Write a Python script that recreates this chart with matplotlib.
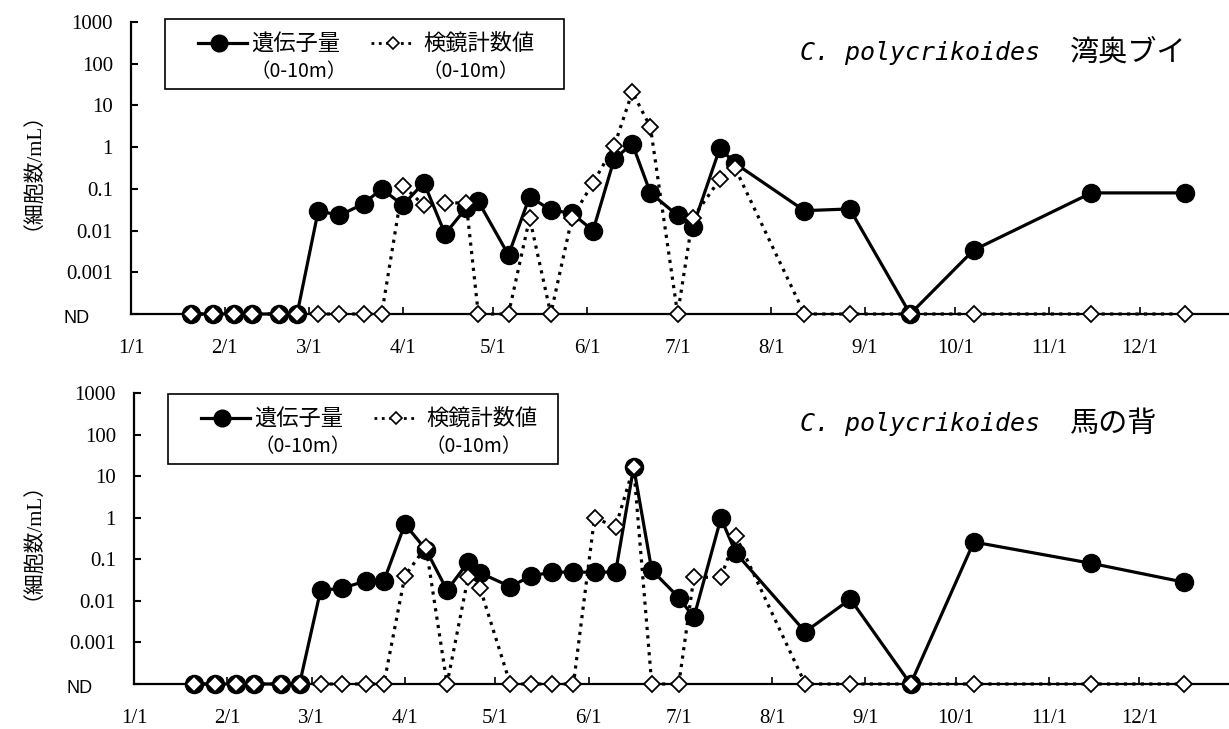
import matplotlib
matplotlib.use('Agg')
import matplotlib.pyplot as plt
from matplotlib.lines import Line2D
from matplotlib.patches import Rectangle
from matplotlib.ticker import NullLocator, FixedLocator, FixedFormatter

plt.rcParams['font.family'] = ['Liberation Serif', 'Noto Sans CJK JP', 'DejaVu Sans']

ND = 1e-4  # plotted level for "not detected"

# sampling dates (day of year, 0 = Jan 1)
sample_days = [20, 27, 34, 40, 49, 55, 62, 69, 77, 83, 90, 97, 104, 111, 115,
               125, 132, 139, 146, 153, 160, 166, 172, 181, 186, 195, 200,
               223, 238, 258, 279, 318, 349]

# Panel 1: 湾奥ブイ
gene_bay = [ND, ND, ND, ND, ND, ND, 0.03, 0.023, 0.044, 0.1, 0.041,
            0.14, 0.0083, 0.035, 0.05, 0.0026, 0.065, 0.031, 0.026, 0.01,
            0.52, 1.2, 0.08, 0.023, 0.012, 0.95, 0.41, 0.03, 0.033, ND,
            0.0034, 0.08, 0.08]
micro_bay = [ND, ND, ND, ND, ND, ND, ND, ND, ND, ND, 0.12,
             0.04, 0.046, 0.046, ND, ND, 0.02, ND, 0.02, 0.14,
             1.06, 21, 3.0, ND, 0.02, 0.17, 0.32, ND, ND, ND,
             ND, ND, ND]

# Panel 2: 馬の背
gene_uma = [ND, ND, ND, ND, ND, ND, 0.018, 0.02, 0.03, 0.03, 0.7,
            0.17, 0.018, 0.085, 0.047, 0.022, 0.04, 0.049, 0.049, 0.049,
            0.049, 16.5, 0.055, 0.012, 0.004, 0.98, 0.14, 0.0018, 0.011, ND,
            0.26, 0.08, 0.028]
micro_uma = [ND, ND, ND, ND, ND, ND, ND, ND, ND, ND, 0.04,
             0.2, ND, 0.037, 0.02, ND, ND, ND, ND, 1.0,
             0.6, 16.5, ND, ND, 0.037, 0.037, 0.36, ND, ND, ND,
             ND, ND, ND]

month_starts = [0, 31, 59, 90, 120, 151, 181, 212, 243, 273, 304, 334]
month_labels = ['1/1', '2/1', '3/1', '4/1', '5/1', '6/1', '7/1', '8/1',
                '9/1', '10/1', '11/1', '12/1']
y_ticks = [1e-4, 1e-3, 1e-2, 1e-1, 1, 10, 100, 1000]
y_labels = ['', '0.001', '0.01', '0.1', '1', '10', '100', '1000']

legend_gene = '遺伝子量'
legend_micro = '検鏡計数値'
depth_label = '（0-10m）'
species = 'C. polycrikoides'
stations = ['湾奥ブイ', '馬の背']
ylabel = '（細胞数/mL）'

W, H = 1229, 729
fig = plt.figure(figsize=(W / 100, H / 100), dpi=100)

CJK = ['Noto Sans CJK JP', 'DejaVu Sans']
SERIF_CJK = ['Liberation Serif', 'Noto Sans CJK JP']


def fx(x):
    return x / W


def fy(y):
    return 1 - y / H


def panel(rect, gene, micro, station, leg, title_y, ylab_y):
    ax = fig.add_axes(rect)
    ax.set_yscale('log')
    ax.set_ylim(1e-4, 1e3)
    ax.set_xlim(0, 365)
    for s in ['top', 'right']:
        ax.spines[s].set_visible(False)
    for s in ['left', 'bottom']:
        ax.spines[s].set_linewidth(1.6)
    ax.yaxis.set_minor_locator(NullLocator())
    ax.yaxis.set_major_locator(FixedLocator(y_ticks))
    ax.yaxis.set_major_formatter(FixedFormatter(y_labels))
    ax.set_xticks(month_starts)
    ax.set_xticklabels(month_labels)
    ax.tick_params(axis='y', direction='in', length=5, width=1.5, pad=13,
                   labelsize=15, labelfontfamily='Liberation Serif')
    ax.tick_params(axis='x', direction='in', length=5, width=1.2, pad=18,
                   labelsize=15, labelfontfamily='Liberation Serif')
    ax.annotate('ND', xy=(0, 1e-4), xycoords=('axes fraction', 'data'),
                xytext=(-30, -3), textcoords='offset points',
                ha='right', va='center', fontsize=13,
                family='Liberation Sans')

    ax.plot(sample_days, gene, '-', color='black', lw=2.3, marker='o',
            ms=13, mfc='black', mec='black', clip_on=False, zorder=3)
    ax.plot(sample_days, micro, ':', color='black', lw=2.3, marker='D',
            ms=8.5, mfc='white', mec='black', mew=1.3, clip_on=False,
            zorder=4)

    # legend box
    x0, y0, x1, y1 = leg
    fig.add_artist(Rectangle((fx(x0), fy(y1)), fx(x1 - x0), (y1 - y0) / H,
                             fill=False, lw=1.2, ec='black'))
    ly = y0 + 24
    fig.add_artist(Line2D([fx(x0 + 33), fx(x0 + 82)], [fy(ly), fy(ly)],
                          color='black', lw=2.3, marker=None))
    fig.add_artist(Line2D([fx(x0 + 54)], [fy(ly)], color='black', marker='o',
                          ms=12, mfc='black', mec='black'))
    fig.text(fx(x0 + 86), fy(ly), legend_gene, family=CJK, fontsize=16,
             ha='left', va='center')
    fig.text(fx(x0 + 86), fy(ly + 29), depth_label, family=CJK, fontsize=14,
             ha='left', va='center')
    fig.add_artist(Line2D([fx(x0 + 206), fx(x0 + 250)], [fy(ly), fy(ly)],
                          color='black', lw=2.0, ls=':'))
    fig.add_artist(Line2D([fx(x0 + 228)], [fy(ly)], color='black', marker='D',
                          ms=6.5, mfc='white', mec='black', mew=1.2))
    fig.text(fx(x0 + 258), fy(ly), legend_micro, family=CJK, fontsize=16,
             ha='left', va='center')
    fig.text(fx(x0 + 258), fy(ly + 29), depth_label, family=CJK, fontsize=14,
             ha='left', va='center')

    # title
    fig.text(fx(800), fy(title_y), species, family='DejaVu Sans Mono',
             style='italic', fontsize=18, ha='left', va='center')
    fig.text(fx(1070), fy(title_y), station, family=CJK, fontsize=21,
             ha='left', va='center')

    # y label
    fig.text(fx(22), fy(ylab_y), ylabel, family=SERIF_CJK, fontsize=15,
             rotation=90, ha='center', va='center')
    return ax


panel([131 / W, 1 - 314 / H, 365 * 3.02 / W, (314 - 22) / H],
      gene_bay, micro_bay, stations[0], (165, 19, 564, 89), 53, 160)
panel([134 / W, 1 - 684 / H, 365 * 3.01 / W, (684 - 393) / H],
      gene_uma, micro_uma, stations[1], (168, 394, 558, 464), 424, 530)

fig.savefig('out.png', dpi=100)
